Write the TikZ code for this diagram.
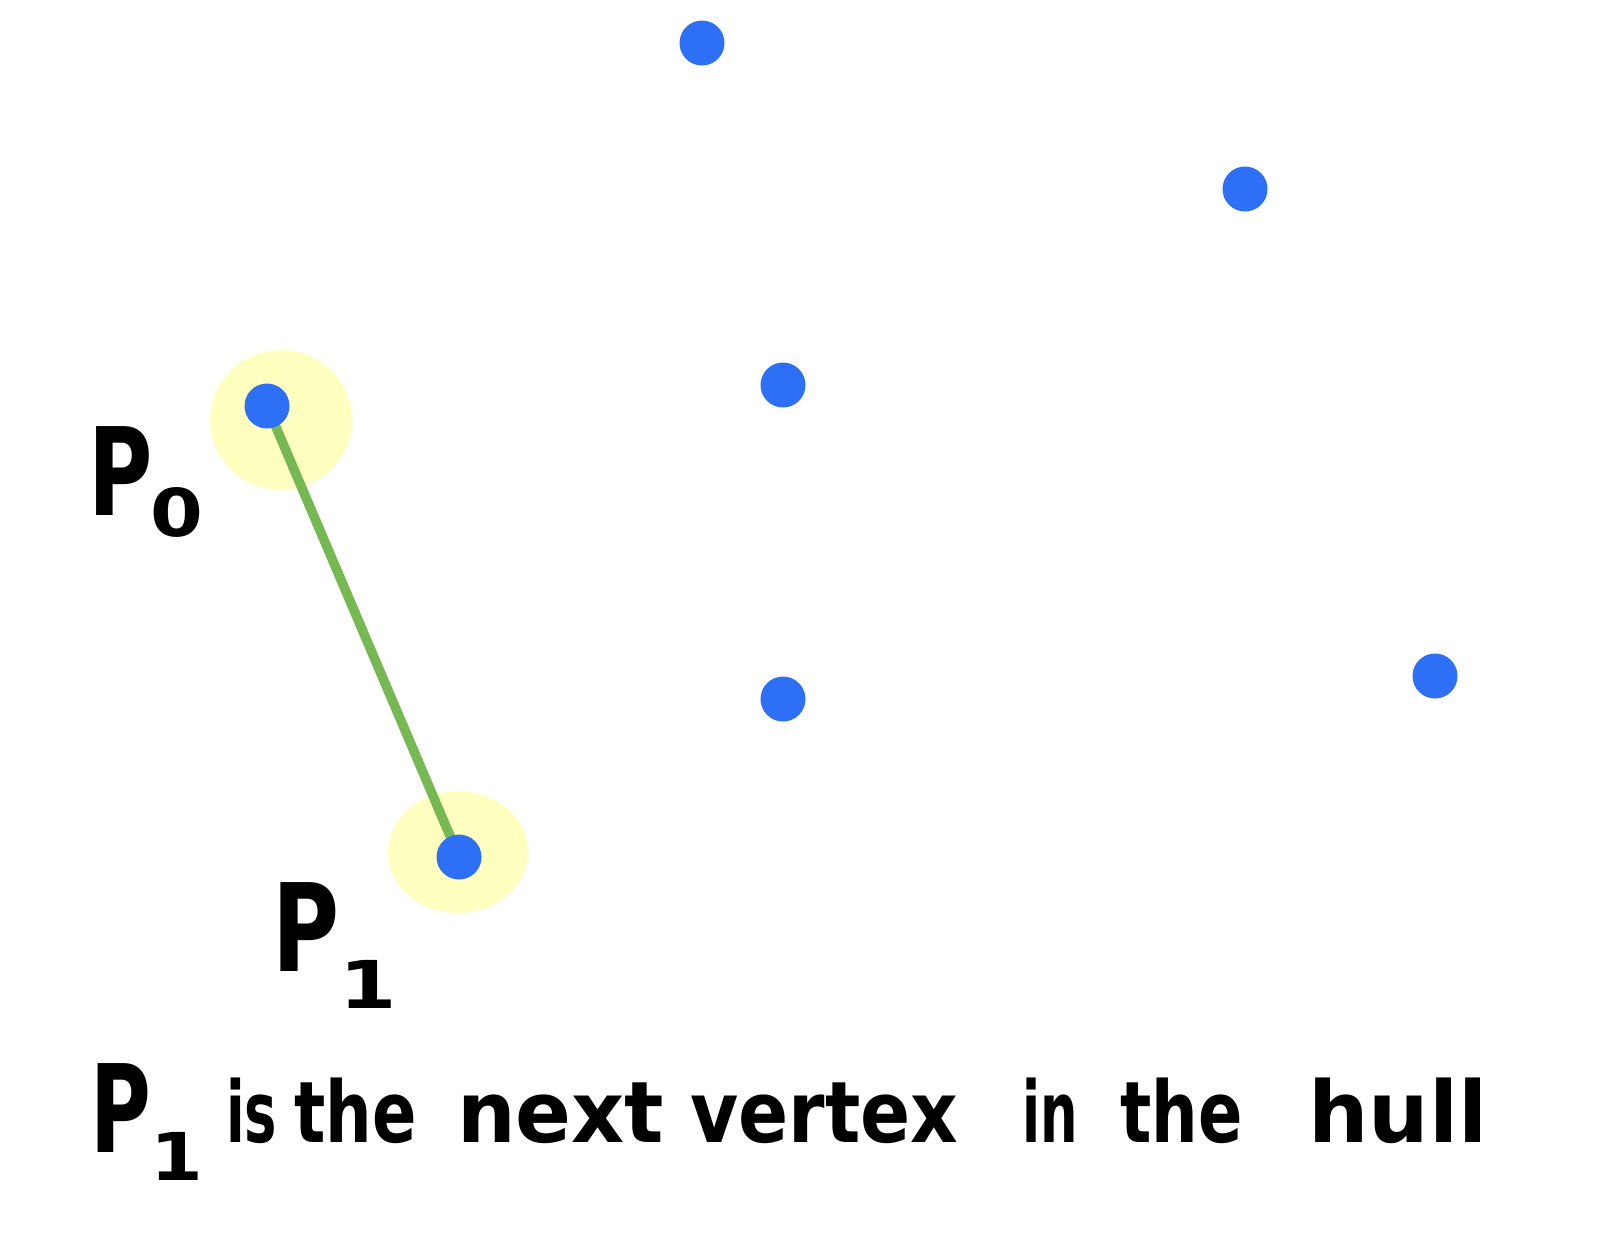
\documentclass[tikz,border=0pt]{standalone}
\usepackage{fontspec}
\setmainfont{DejaVu Sans}
\definecolor{dotblue}{RGB}{46,112,245}
\definecolor{glowyellow}{RGB}{255,255,192}
\definecolor{linegreen}{RGB}{118,184,82}
\begin{document}
\begin{tikzpicture}[x=1pt,y=-1pt,
  dot/.style={circle,fill=dotblue,inner sep=0pt,minimum size=45pt},
  glow/.style={fill=glowyellow},
  edge/.style={draw=linegreen,line width=9.5pt,line cap=round},
  hand/.style={inner sep=0pt,anchor=base west,font=\bfseries\fontsize{85}{90}\selectfont},
  bigP/.style={inner sep=0pt,anchor=base west,font=\bfseries\fontsize{122}{130}\selectfont},
  subs/.style={inner sep=0pt,anchor=base west,font=\bfseries\fontsize{66}{72}\selectfont}]
\useasboundingbox (0,0) rectangle (1600,1254);
\fill[white] (0,0) rectangle (1600,1254);
% point positions
\coordinate (a) at (702,43);
\coordinate (b) at (1245,189);
\coordinate (c) at (783,385);
\coordinate (p0) at (267,406);
\coordinate (d) at (783,699);
\coordinate (e) at (1435,676);
\coordinate (p1) at (459,857);
% highlights
\fill[glow] (281,420) ellipse [x radius=71, y radius=70];
\fill[glow] (458,852) ellipse [x radius=70, y radius=61];
% hull edge
\draw[edge] (p0) -- (p1);
% points
\foreach \n in {a,b,c,p0,d,e,p1} \node[dot] (dot-\n) at (\n) {};
% labels
\node[bigP] (lp0) at (88,515) {\scalebox{0.72}[1]{P}};
\node[subs] (lp0s) at (150,536) {\scalebox{1.15}[1]{0}};
\node[bigP] (lp1) at (272,971) {\scalebox{0.75}[1]{P}};
\node[subs] (lp1s) at (339,1008) {\scalebox{1.25}[1]{1}};
% caption
\node[bigP] (cP) at (90,1152) {\scalebox{0.68}[1]{P}};
\node[subs] (cPs) at (150,1180) {\scalebox{1.15}[1]{1}};
\node[hand] (w1) at (226,1142) {\scalebox{0.64}[1]{is}};
\node[hand] (w2) at (294,1142) {\scalebox{0.77}[1]{the}};
\node[hand] (w3) at (457,1142) {\scalebox{0.97}[1]{next}};
\node[hand] (w4) at (690,1142) {\scalebox{0.87}[1]{vertex}};
\node[hand] (w5) at (1022,1142) {\scalebox{0.62}[1]{in}};
\node[hand] (w6) at (1120,1142) {\scalebox{0.77}[1]{the}};
\node[hand] (w7) at (1308,1142) {\scalebox{1.0}[1]{hull}};
\end{tikzpicture}
\end{document}
